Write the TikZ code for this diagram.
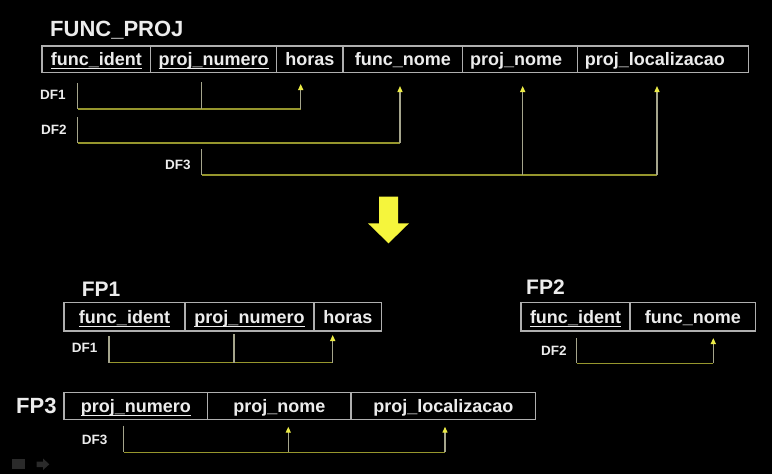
\documentclass[tikz,border=0pt]{standalone}
\usepackage{fontspec}
\setmainfont{Liberation Sans}
\usetikzlibrary{arrows.meta}
\definecolor{txt}{RGB}{236,236,236}
\definecolor{cellline}{RGB}{175,175,175}
\definecolor{dfline}{RGB}{150,150,45}
\definecolor{dfgray}{RGB}{165,165,140}
\definecolor{tipyellow}{RGB}{235,235,70}
\definecolor{bigyellow}{RGB}{245,245,60}
\definecolor{icongray}{RGB}{42,42,42}
\newcommand\keyul[1]{\setbox0\hbox{#1}\rlap{\rule[-3.9pt]{\wd0}{1.3pt}}\box0}
\begin{document}
\begin{tikzpicture}[x=1pt,y=-1pt,
  cell/.style={draw=cellline, line width=1.3pt, inner sep=0pt, text=txt,
    font=\fontsize{18}{20}\selectfont\bfseries, text height=14pt, text depth=1.4pt},
  leftcell/.style={cell, inner xsep=7.5pt, align=left},
  title/.style={text=txt, font=\fontsize{22}{24}\selectfont\bfseries, inner sep=0pt, anchor=base west},
  dflabel/.style={text=txt, font=\fontsize{13.5}{15}\selectfont\bfseries, inner sep=0pt, anchor=west},
  leg/.style={draw=dfgray, line width=1.3pt},
  baseline/.style={draw=dfline, line width=1.3pt},
  arr/.style={leg, -{Triangle[length=6pt,width=5pt,color=tipyellow]}}]
\fill[black] (0,0) rectangle (772,474);
\useasboundingbox (0,0) rectangle (772,474);

% ---------- FUNC_PROJ ----------
\node[title] (ttl) at (50,36) {FUNC\_PROJ};
\node[cell, minimum width=108.7pt, minimum height=26.5pt] (t1) at (96.35,59.25) {\keyul{func\_ident}};
\node[cell, minimum width=126pt, minimum height=26.5pt] (t2) at (213.7,59.25) {\keyul{proj\_numero}};
\node[cell, minimum width=66.3pt, minimum height=26.5pt] (t3) at (309.85,59.25) {horas};
\node[cell, minimum width=119.7pt, minimum height=26.5pt] (t4) at (402.85,59.25) {func\_nome};
\node[leftcell, text width=99.6pt, minimum height=26.5pt] (t5) at (520,59.25) {proj\_nome};
\node[leftcell, text width=156.4pt, minimum height=26.5pt] (t6) at (663,59.25) {proj\_localizacao};

\node[dflabel] (l1) at (40,95) {DF1};
\node[dflabel] (l2) at (41,130) {DF2};
\node[dflabel] (l3) at (165,165) {DF3};

% DF1
\coordinate (d1s) at (77.7,83);
\coordinate (d1m) at (201.7,82);
\coordinate (d1c) at (300.7,109);
\coordinate (d1t) at (300.7,84);
\draw[baseline] (d1s |- d1c) -- (d1c);
\draw[leg] (d1s) -- (d1s |- d1c);
\draw[leg] (d1m) -- (d1m |- d1c);
\draw[arr] (d1c) -- (d1t);
% DF2
\coordinate (d2s) at (77.7,117);
\coordinate (d2c) at (400,143);
\coordinate (d2t) at (400,86);
\draw[baseline] (d2s |- d2c) -- (d2c);
\draw[leg] (d2s) -- (d2s |- d2c);
\draw[arr] (d2c) -- (d2t);
% DF3
\coordinate (d3s) at (201.7,149);
\coordinate (d3c) at (657,175);
\coordinate (d3t) at (657,86);
\coordinate (d3u) at (522.7,86);
\draw[baseline] (d3s |- d3c) -- (d3c);
\draw[leg] (d3s) -- (d3s |- d3c);
\draw[arr] (d3u |- d3c) -- (d3u);
\draw[arr] (d3c) -- (d3t);

% ---------- big arrow ----------
\fill[bigyellow] (379,196.7) -- (398,196.7) -- (398,223.3) -- (409,223.3) -- (388.5,243.3) -- (368,223.3) -- (379,223.3) -- cycle;

% ---------- FP1 ----------
\node[title, font=\fontsize{21}{23}\selectfont\bfseries] (fp1) at (81.7,296.7) {FP1};
\node[cell, minimum width=121pt, minimum height=28.3pt] (a1) at (124.5,316.85) {\keyul{func\_ident}};
\node[cell, minimum width=129pt, minimum height=28.3pt] (a2) at (249.5,316.85) {\keyul{proj\_numero}};
\node[cell, minimum width=67.7pt, minimum height=28.3pt] (a3) at (347.85,316.85) {horas};
\node[dflabel] (l4) at (71.7,348.3) {DF1};
\coordinate (e1s) at (109,336);
\coordinate (e1m) at (234,334.3);
\coordinate (e1c) at (332.7,362.7);
\coordinate (e1t) at (332.7,335);
\draw[baseline] (e1s |- e1c) -- (e1c);
\draw[leg] (e1s) -- (e1s |- e1c);
\draw[leg] (e1m) -- (e1m |- e1c);
\draw[arr] (e1c) -- (e1t);

% ---------- FP2 ----------
\node[title, font=\fontsize{21}{23}\selectfont\bfseries] (fp2) at (526,294) {FP2};
\node[cell, minimum width=109pt, minimum height=28.3pt] (b1) at (575.5,316.85) {\keyul{func\_ident}};
\node[cell, minimum width=125.7pt, minimum height=28.3pt] (b2) at (692.85,316.85) {func\_nome};
\node[dflabel] (l5) at (541,350.7) {DF2};
\coordinate (e2s) at (576.7,338);
\coordinate (e2c) at (713.3,363.3);
\coordinate (e2t) at (713.3,338);
\draw[baseline] (e2s |- e2c) -- (e2c);
\draw[leg] (e2s) -- (e2s |- e2c);
\draw[arr] (e2c) -- (e2t);

% ---------- FP3 ----------
\node[title] (fp3) at (16,413.3) {FP3};
\node[cell, minimum width=143.7pt, minimum height=26.7pt] (c1) at (135.85,405.85) {\keyul{proj\_numero}};
\node[cell, minimum width=143.3pt, minimum height=26.7pt] (c2) at (279.35,405.85) {proj\_nome};
\node[cell, minimum width=184.7pt, minimum height=26.7pt] (c3) at (443.35,405.85) {proj\_localizacao};
\node[dflabel] (l6) at (81.7,440) {DF3};
\coordinate (e3s) at (123.7,425.7);
\coordinate (e3c) at (445,452.3);
\coordinate (e3t) at (445,426.7);
\coordinate (e3u) at (288.3,426.7);
\draw[baseline] (e3s |- e3c) -- (e3c);
\draw[leg] (e3s) -- (e3s |- e3c);
\draw[arr] (e3u |- e3c) -- (e3u);
\draw[arr] (e3c) -- (e3t);

% ---------- player icons ----------
\fill[icongray] (12.3,459.3) rectangle (25,469.3);
\fill[icongray] (36.7,461.5) -- (43,461.5) -- (43,458.5) -- (49.3,464.3) -- (43,470) -- (43,467) -- (36.7,467) -- cycle;
\end{tikzpicture}
\end{document}
